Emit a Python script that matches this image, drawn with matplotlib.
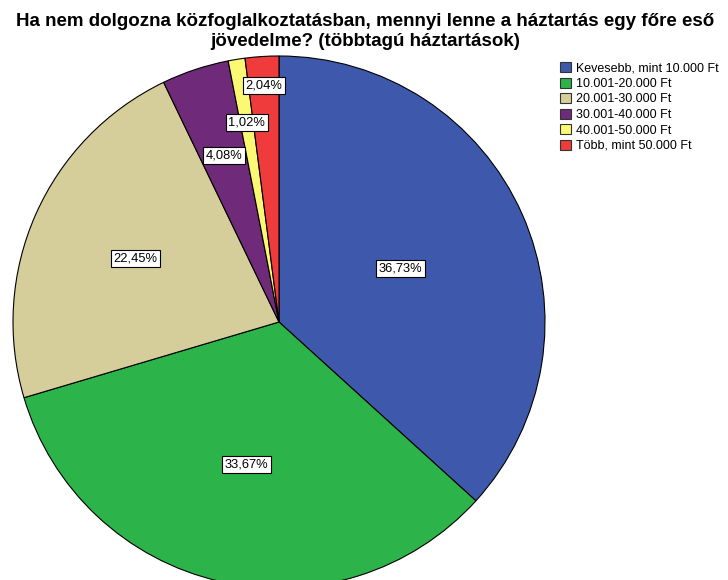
import numpy as np
import matplotlib.pyplot as plt
from matplotlib.patches import Patch

plt.rcParams['font.family'] = ['Liberation Sans', 'DejaVu Sans']

# categories and shares (percent)
categories = ["Kevesebb, mint 10.000 Ft", "10.001-20.000 Ft", "20.001-30.000 Ft",
              "30.001-40.000 Ft", "40.001-50.000 Ft", "Több, mint 50.000 Ft"]
shares = [36.73, 33.67, 22.45, 4.08, 1.02, 2.04]
pct_labels = ["36,73%", "33,67%", "22,45%", "4,08%", "1,02%", "2,04%"]

colors = ["#3E58AC", "#2CB34A", "#D5CE9A", "#6F2A7A", "#FBF873", "#EF3B3B"]
label_r = [0.50, 0.55, 0.59, 0.66, 0.76, 0.89]

title = ("Ha nem dolgozna közfoglalkoztatásban, mennyi lenne a háztartás egy főre eső\n"
         "jövedelme? (többtagú háztartások)")

fig = plt.figure(figsize=(7.28, 5.8), dpi=100)
ax = fig.add_axes([13 / 728, -8 / 580, 532 / 728, 532 / 580])

wedges, _ = ax.pie(shares, colors=colors, startangle=90, counterclock=False,
                   wedgeprops=dict(edgecolor="black", linewidth=0.8))

for w, lab, r in zip(wedges, pct_labels, label_r):
    ang = np.deg2rad((w.theta1 + w.theta2) / 2)
    ax.text(r * np.cos(ang), r * np.sin(ang), lab, ha="center", va="center",
            fontsize=9.3, bbox=dict(boxstyle="square,pad=0.2", fc="white", ec="black", lw=0.8))

ax.set_xlim(-1, 1)
ax.set_ylim(-1, 1)
ax.set_aspect("equal")
ax.axis("off")

fig.text(365 / 728, 1 - 13 / 580, title, ha="center", va="top", fontsize=13.5,
         fontweight="bold", linespacing=1.25)

handles = [Patch(facecolor=c, edgecolor="#333333", linewidth=0.8) for c in colors]
fig.legend(handles, categories, loc="upper left", bbox_to_anchor=(555 / 728, 1 - 57 / 580),
           frameon=False, fontsize=9.0, handlelength=0.9, handleheight=0.9,
           handletextpad=0.4, labelspacing=0.24, borderaxespad=0)

fig.savefig("out.png", dpi=100)
